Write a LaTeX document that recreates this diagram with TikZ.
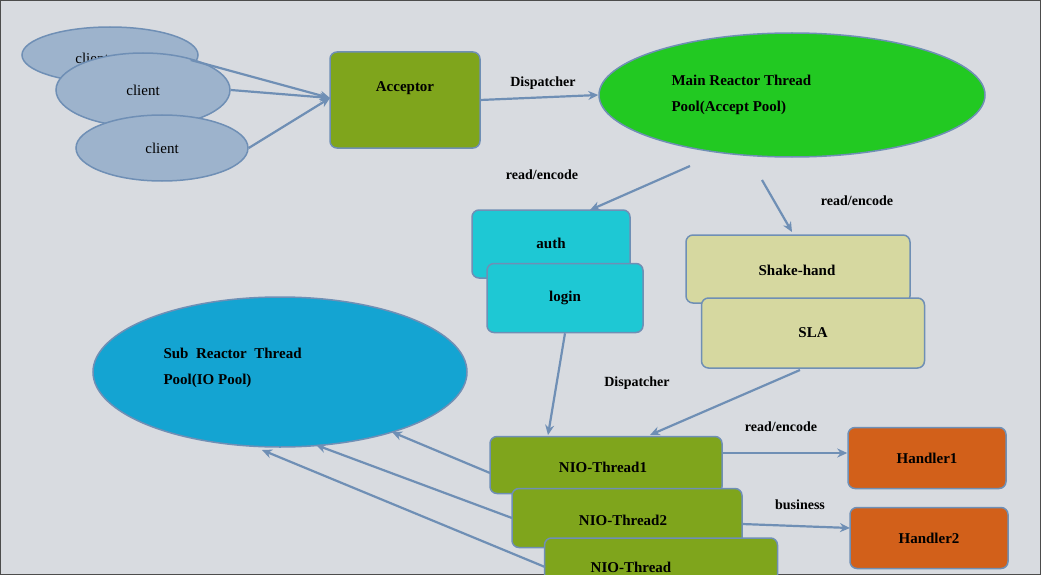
\documentclass[tikz,border=0pt]{standalone}
\usepackage{fontspec}
\setmainfont{Liberation Serif}
\usetikzlibrary{arrows.meta,shapes.geometric}
\definecolor{bg}{HTML}{D8DBE0}
\definecolor{ln}{HTML}{6F8FB5}
\definecolor{cl}{HTML}{9DB3CC}
\definecolor{acc}{HTML}{7FA51C}
\definecolor{mainr}{HTML}{22C922}
\definecolor{cy}{HTML}{1EC8D4}
\definecolor{ye}{HTML}{D6D8A0}
\definecolor{sub}{HTML}{14A4D2}
\definecolor{ha}{HTML}{D2601A}
\begin{document}
\begin{tikzpicture}[x=1pt,y=-1pt,
 box/.style={draw=ln,line width=1.5pt,rounded corners=7pt,font=\fontsize{15}{18}\selectfont\bfseries},
 ell/.style={draw=ln,line width=1.5pt,ellipse,fill=cl,font=\fontsize{15}{18}\selectfont},
 lab/.style={font=\fontsize{14}{17}\selectfont\bfseries},
 arr/.style={draw=ln,line width=2.2pt,-{Stealth[length=10pt,width=9pt]}}]
\useasboundingbox (0,0) rectangle (1041,575);
\fill[bg] (0,0) rectangle (1041,575);
\draw[black!70,line width=1pt] (0.5,0.5) rectangle (1040.5,574.5);
\begin{scope}
\clip (0,0) rectangle (1041,575);
% clients
\node[ell,minimum width=176pt,minimum height=56pt] (c1) at (110,55) {};
\node[font=\fontsize{15}{18}\selectfont] at (92,58) {client};
\node[ell,minimum width=174pt,minimum height=74pt] (c2) at (143,90) {client};
\node[ell,minimum width=172pt,minimum height=66pt] (c3) at (162,148) {client};
\node[box,fill=acc,minimum width=150pt,minimum height=96pt] (acc) at (405,100) {};
\node[font=\fontsize{15}{18}\selectfont\bfseries] at (405,88) {Acceptor};
\coordinate (accin) at (330,98);
\draw[arr] (c1.east) ++(-8,5) -- (accin);
\draw[arr] (c2.east) -- (accin);
\draw[arr] (c3.east) -- (accin);
% main reactor
\node[ellipse,draw=ln,line width=1.5pt,fill=mainr,minimum width=386pt,minimum height=124pt] (mr) at (792,95) {};
\node[font=\fontsize{15}{18}\selectfont\bfseries,align=left,anchor=west] at (668,95) {Main Reactor Thread\\[8pt]Pool(Accept Pool)};
\draw[arr] (480,100) -- (mr.west);
\node[lab] at (543,83) {Dispatcher};
% auth/login
\node[box,fill=cy,minimum width=158pt,minimum height=68pt] (auth) at (551,244) {};
\node[font=\fontsize{15}{18}\selectfont\bfseries] at (551,243) {auth};
\node[box,fill=cy,minimum width=156pt,minimum height=69pt] (login) at (565,298) {login};
\draw[arr] (690,166) -- (590,210);
\node[lab] at (542,175) {read/encode};
% shake-hand / SLA
\node[box,fill=ye,minimum width=224pt,minimum height=68pt] (sh) at (798,269) {};
\node[font=\fontsize{15}{18}\selectfont\bfseries] at (797,270) {Shake-hand};
\node[box,fill=ye,minimum width=223pt,minimum height=70pt] (sla) at (813,333) {SLA};
\draw[arr] (762,180) -- (792,232);
\node[lab] at (857,201) {read/encode};
% sub reactor
\node[ellipse,draw=ln,line width=1.5pt,fill=sub,minimum width=374pt,minimum height=150pt] (sr) at (280,372) {};
\node[font=\fontsize{15}{18}\selectfont\bfseries,align=left,anchor=west] at (160,368) {Sub\ \ Reactor\ \ Thread\\[8pt]Pool(IO Pool)};
% NIO threads
\node[box,fill=acc,minimum width=232pt,minimum height=57pt] (n1) at (606,465) {};
\node[font=\fontsize{15}{18}\selectfont\bfseries] at (603,467) {NIO-Thread1};
\node[box,fill=acc,minimum width=230pt,minimum height=59pt] (n2) at (627,518) {};
\node[font=\fontsize{15}{18}\selectfont\bfseries] at (623,520) {NIO-Thread2};
\node[box,fill=acc,minimum width=233pt,minimum height=62pt] (n3) at (661,569) {};
\node[font=\fontsize{15}{18}\selectfont\bfseries] at (631,567) {NIO-Thread};
\draw[arr] (login.south) -- (548,435);
\node[lab] at (637,383) {Dispatcher};
\draw[arr] (800,370) -- (650,435);
% handlers
\node[box,fill=ha,minimum width=158pt,minimum height=61pt] (h1) at (927,458) {Handler1};
\node[box,fill=ha,minimum width=158pt,minimum height=61pt] (h2) at (929,538) {Handler2};
\draw[arr] (722,453) -- (h1.west |- 0,453);
\node[lab] at (781,427) {read/encode};
\draw[arr] (742,524) -- (850,528);
\node[lab] at (800,505) {business};
% back to sub reactor
\draw[arr] (490,473) -- (392,432);
\draw[arr] (512,518) -- (316,445);
\draw[arr] (545,567) -- (262,450);
\end{scope}
\end{tikzpicture}
\end{document}
